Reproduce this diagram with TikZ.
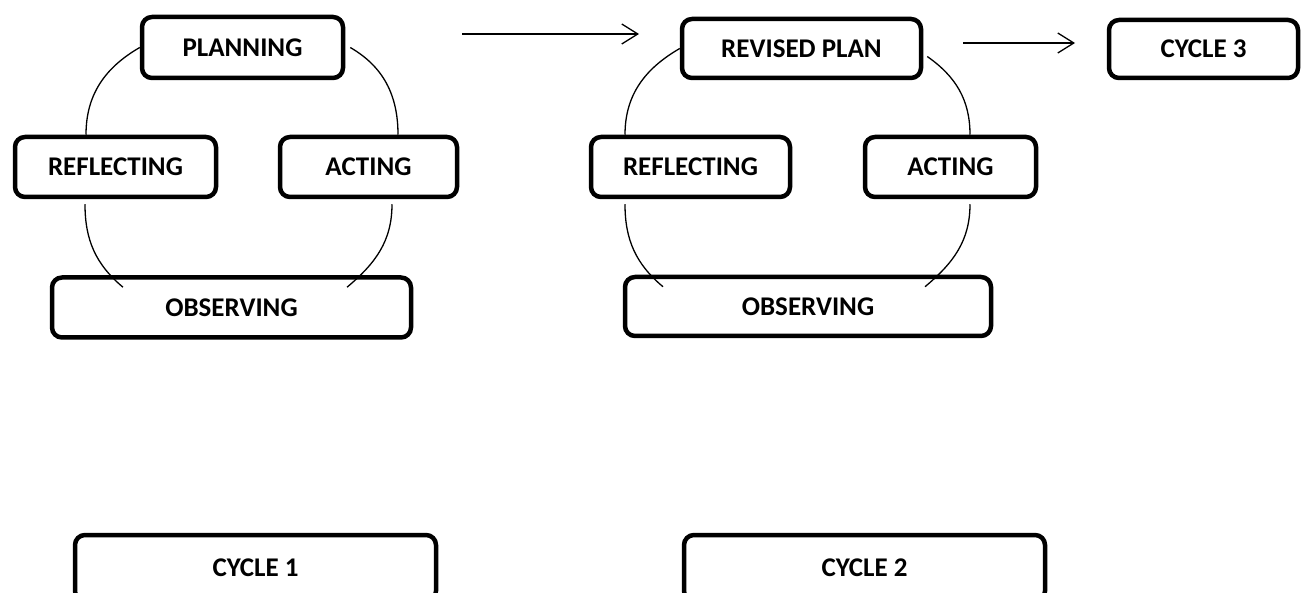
\documentclass[tikz,border=0pt]{standalone}
\usepackage{fontspec}
\setmainfont{Carlito}
\usetikzlibrary{arrows.meta}
\tikzset{
  box/.style={draw, line width=4.5pt, rounded corners=10pt, inner sep=0pt,
    font=\fontsize{27}{32}\selectfont\bfseries, align=center},
  arc/.style={line width=1.3pt},
  flow/.style={line width=1.3pt, -{Straight Barb[length=16pt,width=20pt,line width=1.3pt]}}
}
\begin{document}
\begin{tikzpicture}[x=1pt,y=-1pt]
\useasboundingbox (0,0) rectangle (1307,593);
% cycle 1
\node[box, minimum width=201pt, minimum height=61pt] (p1) at (242.5,47.5) {PLANNING};
\node[box, minimum width=201pt, minimum height=60pt] (r1) at (115.5,167) {REFLECTING};
\node[box, minimum width=177pt, minimum height=60pt] (a1) at (368.5,167) {ACTING};
\node[box, minimum width=359pt, minimum height=60pt] (o1) at (231.5,307.5) {OBSERVING};
% cycle 2
\node[box, minimum width=239pt, minimum height=59pt] (p2) at (801.5,48.5) {REVISED PLAN};
\node[box, minimum width=199pt, minimum height=60pt] (r2) at (690.5,167) {REFLECTING};
\node[box, minimum width=171pt, minimum height=60pt] (a2) at (950.5,167) {ACTING};
\node[box, minimum width=366pt, minimum height=59pt] (o2) at (808,306.5) {OBSERVING};
% cycle 3 and labels
\node[box, minimum width=189pt, minimum height=58pt] (c3) at (1203.5,49) {CYCLE 3};
\node[box, minimum width=361pt, minimum height=66pt] (c1) at (255.5,568) {CYCLE 1};
\node[box, minimum width=361pt, minimum height=66pt] (c2) at (864.5,568) {CYCLE 2};
% arcs cycle 1
\draw[arc] (p1.west) to[out=210,in=90] ([xshift=-29.5pt]r1.north);
\draw[arc] ([xshift=5pt]p1.east) to[out=-30,in=90] ([xshift=29.5pt]a1.north);
\draw[arc] ([xshift=-30.5pt,yshift=-5pt]r1.south) to[out=270,in=140] ([xshift=-108.5pt,yshift=-12pt]o1.north);
\draw[arc] ([xshift=23.5pt,yshift=-5pt]a1.south) to[out=270,in=40] ([xshift=115.5pt,yshift=-12pt]o1.north);
% arcs cycle 2
\draw[arc] (p2.west) to[out=210,in=90] ([xshift=-65.5pt]r2.north);
\draw[arc] ([xshift=4pt,yshift=-8pt]p2.east) to[out=-35,in=90] ([xshift=19.5pt]a2.north);
\draw[arc] ([xshift=-65.5pt,yshift=-5pt]r2.south) to[out=270,in=140] ([xshift=-145pt,yshift=-12pt]o2.north);
\draw[arc] ([xshift=19.5pt,yshift=-5pt]a2.south) to[out=270,in=40] ([xshift=117pt,yshift=-12pt]o2.north);
% arrows
\coordinate (s1) at (462,34);
\coordinate (e1) at (639,34);
\coordinate (s2) at (963,43);
\coordinate (e2) at (1075,43);
\draw[flow] (s1) -- (e1);
\draw[flow] (s2) -- (e2);
\end{tikzpicture}
\end{document}
